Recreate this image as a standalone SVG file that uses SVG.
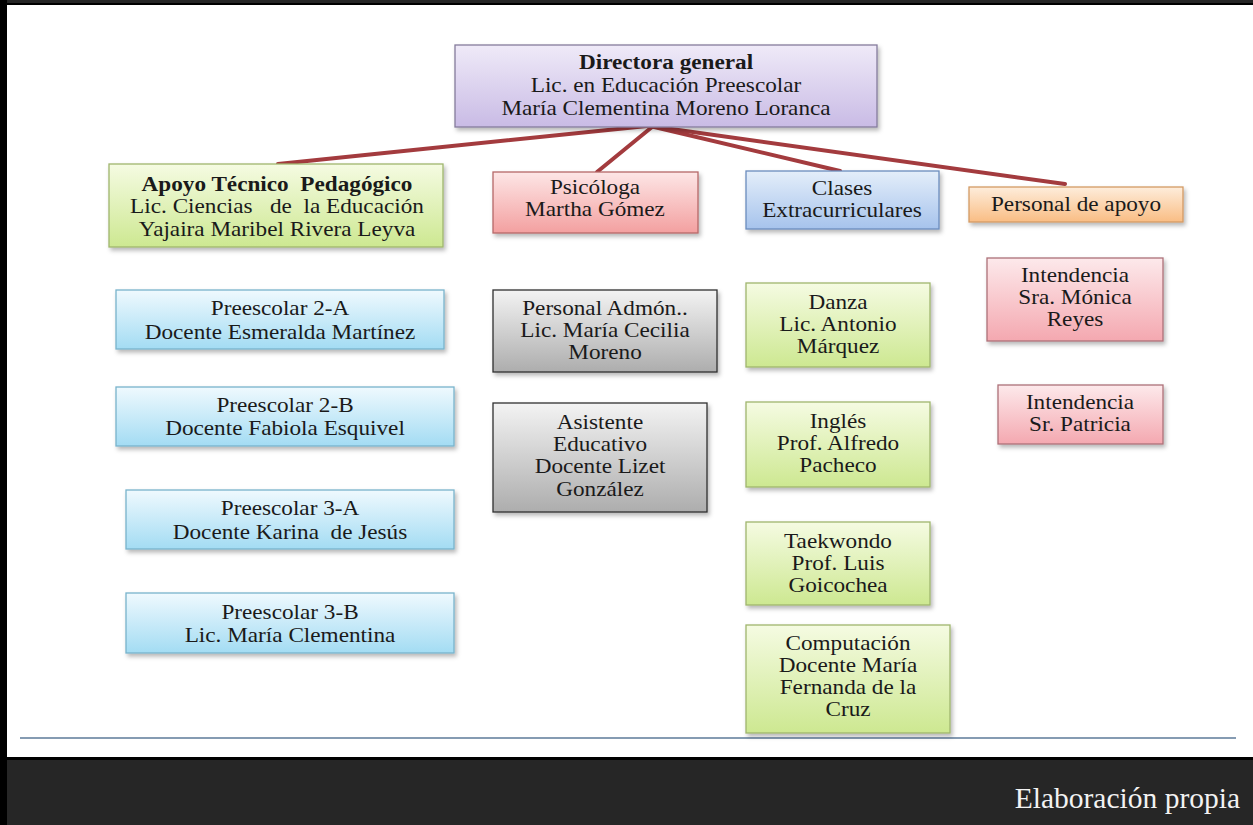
<svg xmlns="http://www.w3.org/2000/svg" width="1253" height="825" viewBox="0 0 1253 825">
<defs>
<linearGradient id="gPur" x1="0" y1="0" x2="0" y2="1"><stop offset="0" stop-color="#efeaf8"/><stop offset="1" stop-color="#c9bbe5"/></linearGradient>
<linearGradient id="gGrn" x1="0" y1="0" x2="0" y2="1"><stop offset="0" stop-color="#f5fbe2"/><stop offset="1" stop-color="#cde891"/></linearGradient>
<linearGradient id="gRed" x1="0" y1="0" x2="0" y2="1"><stop offset="0" stop-color="#fde6e6"/><stop offset="1" stop-color="#f3a0a0"/></linearGradient>
<linearGradient id="gBlu" x1="0" y1="0" x2="0" y2="1"><stop offset="0" stop-color="#e4eefa"/><stop offset="1" stop-color="#a6c3ec"/></linearGradient>
<linearGradient id="gOrg" x1="0" y1="0" x2="0" y2="1"><stop offset="0" stop-color="#feeddb"/><stop offset="1" stop-color="#f9bd84"/></linearGradient>
<linearGradient id="gCya" x1="0" y1="0" x2="0" y2="1"><stop offset="0" stop-color="#eff9fe"/><stop offset="1" stop-color="#a3dcf3"/></linearGradient>
<linearGradient id="gGry" x1="0" y1="0" x2="0" y2="1"><stop offset="0" stop-color="#f3f3f3"/><stop offset="1" stop-color="#adadad"/></linearGradient>
<linearGradient id="gPnk" x1="0" y1="0" x2="0" y2="1"><stop offset="0" stop-color="#fde9eb"/><stop offset="1" stop-color="#f4a8b0"/></linearGradient>
<filter id="sh" x="-10%" y="-10%" width="125%" height="135%"><feDropShadow dx="2" dy="3" stdDeviation="2" flood-color="#000" flood-opacity="0.28"/></filter>
</defs>
<style>
.t{font-family:"Liberation Serif","Times New Roman",serif;font-size:21.5px;fill:#1a1a1a;text-anchor:middle}
.b{font-weight:bold}
.box{stroke-width:1.3;filter:url(#sh)}
.pur{fill:url(#gPur);stroke:#857b9c}
.grn{fill:url(#gGrn);stroke:#9fb56d}
.red{fill:url(#gRed);stroke:#b56868}
.blu{fill:url(#gBlu);stroke:#6a8dbd}
.org{fill:url(#gOrg);stroke:#d39a64}
.cya{fill:url(#gCya);stroke:#78b3cb}
.gry{fill:url(#gGry);stroke:#2e2e2e}
.pnk{fill:url(#gPnk);stroke:#ad7078}
.con{stroke:#a33b3e;stroke-width:4;stroke-linecap:round;fill:none}
.foot{font-family:"Liberation Serif","Times New Roman",serif;font-size:29.5px;fill:#f2f2f2;text-anchor:end}
</style>
<rect x="0" y="0" width="1253" height="825" fill="#ffffff"/>
<rect x="0" y="0" width="1253" height="4" fill="#262626"/>
<rect x="0" y="3" width="1253" height="2" fill="#000"/>
<rect x="0" y="758" width="1253" height="67" fill="#262626"/>
<rect x="0" y="757" width="1253" height="3" fill="#000"/>
<rect x="0" y="0" width="7" height="825" fill="#000"/>
<line x1="20" y1="738" x2="1236" y2="738" stroke="#5d7a99" stroke-width="1.5"/>
<text class="foot" x="1240" y="808">Elaboración propia</text>

<g id="connectors">
<line class="con" x1="647" y1="126" x2="278" y2="164"/>
<line class="con" x1="652" y1="127" x2="597" y2="172"/>
<line class="con" x1="650" y1="126" x2="840" y2="171"/>
<line class="con" x1="650" y1="126" x2="1065" y2="184"/>
</g>

<g id="n-directora"><rect class="box pur" x="455" y="45" width="422" height="82"/>
<g transform="translate(666 0) scale(1.08 1)">
<text class="t b" x="0" y="69">Directora general</text>
<text class="t" x="0" y="92">Lic. en Educación Preescolar</text>
<text class="t" x="0" y="115">María Clementina Moreno Loranca</text></g></g>

<g id="n-apoyo-tecnico"><rect class="box grn" x="109" y="164" width="334" height="83"/>
<g transform="translate(277 0) scale(1.08 1)">
<text class="t b" x="0" y="191" xml:space="preserve">Apoyo Técnico  Pedagógico</text>
<text class="t" x="0" y="213" xml:space="preserve">Lic. Ciencias   de  la Educación</text>
<text class="t" x="0" y="236">Yajaira Maribel Rivera Leyva</text></g></g>

<g id="n-psicologa"><rect class="box red" x="493" y="172" width="205" height="61"/>
<g transform="translate(595 0) scale(1.08 1)">
<text class="t" x="0" y="194">Psicóloga</text>
<text class="t" x="0" y="216">Martha Gómez</text></g></g>

<g id="n-clases"><rect class="box blu" x="746" y="171" width="193" height="58"/>
<g transform="translate(842 0) scale(1.08 1)">
<text class="t" x="0" y="195">Clases</text>
<text class="t" x="0" y="217">Extracurriculares</text></g></g>

<g id="n-personal-apoyo"><rect class="box org" x="969" y="187" width="214" height="35"/>
<g transform="translate(1076 0) scale(1.08 1)">
<text class="t" x="0" y="211">Personal de apoyo</text></g></g>

<g id="n-2a"><rect class="box cya" x="116" y="290" width="328" height="59"/>
<g transform="translate(280 0) scale(1.08 1)">
<text class="t" x="0" y="315">Preescolar 2-A</text>
<text class="t" x="0" y="339">Docente Esmeralda Martínez</text></g></g>

<g id="n-2b"><rect class="box cya" x="116" y="387" width="338" height="59"/>
<g transform="translate(285 0) scale(1.08 1)">
<text class="t" x="0" y="412">Preescolar 2-B</text>
<text class="t" x="0" y="435">Docente Fabiola Esquivel</text></g></g>

<g id="n-3a"><rect class="box cya" x="126" y="490" width="328" height="59"/>
<g transform="translate(290 0) scale(1.08 1)">
<text class="t" x="0" y="515">Preescolar 3-A</text>
<text class="t" x="0" y="539" xml:space="preserve">Docente Karina  de Jesús</text></g></g>

<g id="n-3b"><rect class="box cya" x="126" y="593" width="328" height="60"/>
<g transform="translate(290 0) scale(1.08 1)">
<text class="t" x="0" y="619">Preescolar 3-B</text>
<text class="t" x="0" y="642">Lic. María Clementina</text></g></g>

<g id="n-admon"><rect class="box gry" x="493" y="290" width="224" height="82"/>
<g transform="translate(605 0) scale(1.08 1)">
<text class="t" x="0" y="315">Personal Admón..</text>
<text class="t" x="0" y="337">Lic. María Cecilia</text>
<text class="t" x="0" y="359">Moreno</text></g></g>

<g id="n-asistente"><rect class="box gry" x="493" y="403" width="214" height="109"/>
<g transform="translate(600 0) scale(1.08 1)">
<text class="t" x="0" y="429">Asistente</text>
<text class="t" x="0" y="451">Educativo</text>
<text class="t" x="0" y="473">Docente Lizet</text>
<text class="t" x="0" y="496">González</text></g></g>

<g id="n-danza"><rect class="box grn" x="746" y="283" width="184" height="84"/>
<g transform="translate(838 0) scale(1.08 1)">
<text class="t" x="0" y="309">Danza</text>
<text class="t" x="0" y="331">Lic. Antonio</text>
<text class="t" x="0" y="353">Márquez</text></g></g>

<g id="n-ingles"><rect class="box grn" x="746" y="402" width="184" height="85"/>
<g transform="translate(838 0) scale(1.08 1)">
<text class="t" x="0" y="428">Inglés</text>
<text class="t" x="0" y="450">Prof. Alfredo</text>
<text class="t" x="0" y="472">Pacheco</text></g></g>

<g id="n-taekwondo"><rect class="box grn" x="746" y="522" width="184" height="83"/>
<g transform="translate(838 0) scale(1.08 1)">
<text class="t" x="0" y="548">Taekwondo</text>
<text class="t" x="0" y="570">Prof. Luis</text>
<text class="t" x="0" y="592">Goicochea</text></g></g>

<g id="n-computacion"><rect class="box grn" x="746" y="625" width="204" height="108"/>
<g transform="translate(848 0) scale(1.08 1)">
<text class="t" x="0" y="650">Computación</text>
<text class="t" x="0" y="672">Docente María</text>
<text class="t" x="0" y="694">Fernanda de la</text>
<text class="t" x="0" y="716">Cruz</text></g></g>

<g id="n-intendencia-1"><rect class="box pnk" x="987" y="258" width="176" height="83"/>
<g transform="translate(1075 0) scale(1.08 1)">
<text class="t" x="0" y="282">Intendencia</text>
<text class="t" x="0" y="304">Sra. Mónica</text>
<text class="t" x="0" y="326">Reyes</text></g></g>

<g id="n-intendencia-2"><rect class="box pnk" x="998" y="385" width="165" height="59"/>
<g transform="translate(1080 0) scale(1.08 1)">
<text class="t" x="0" y="409">Intendencia</text>
<text class="t" x="0" y="431">Sr. Patricia</text></g></g>
</svg>
